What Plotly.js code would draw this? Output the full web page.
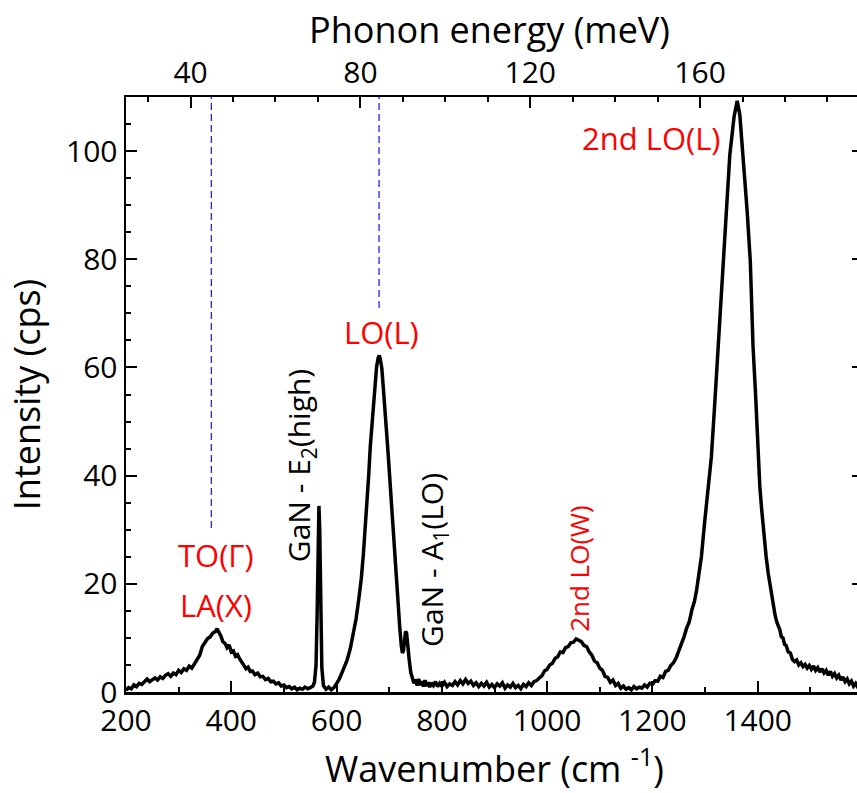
<!DOCTYPE html>
<html>
<head>
<meta charset="utf-8">
<script src="https://cdn.plot.ly/plotly-3.0.1.min.js"></script>
<style>
html,body{margin:0;padding:0;overflow:hidden;background:#fff;}
#chart{width:870px;height:793px;}
</style>
</head>
<body>
<div id="chart"></div>
<script>
// Raman spectrum (wavenumber in cm^-1, intensity in cps)
const wavenumber = [
200,205,210,215,220,225,230,235,240,245,250,255,260,265,270,275,280,285,290,295,300,305,310,315,320,325,330,335,340,345,350,355,360,365,370,373,376,380,384,388,392,396,400,404,408,412,416,420,424,428,432,436,440,445,450,455,460,465,470,475,480,485,490,495,500,505,510,515,520,525,530,535,540,545,550,555,558,561,563,565,566.5,568,570,572,575,580,585,590,595,600,604,607,613,620,626,632,637,642,647,651,655,658,661,664,667,670,673,676,679,681,683,686,689,692,695,698,702,705,708,711,714,717,720,723,725,727,729,731,733,735,738,741,744,747,750,753,756,759,762,765,768,771,774,777,780,784,788,792,796,800,805,810,815,820,825,830,835,840,845,850,855,860,865,870,875,880,885,890,895,900,905,910,915,920,925,930,935,940,945,950,955,960,965,970,975,980,985,990,995,1000,1005,1010,1015,1020,1025,1030,1035,1040,1045,1050,1055,1060,1065,1070,1075,1080,1085,1090,1095,1100,1105,1110,1115,1120,1125,1130,1135,1140,1145,1150,1155,1160,1165,1170,1175,1180,1185,1190,1195,1200,1205,1210,1215,1220,1225,1230,1235,1240,1245,1250,1255,1260,1265,1270,1275,1280,1284,1293,1299,1306,1312,1318,1322,1328,1334,1339,1347,1355,1361,1366,1372,1380,1386,1391,1396,1400,1404,1407,1410,1413,1416,1420,1424,1429,1433,1436,1439,1442,1445,1448,1451,1454,1458,1462,1466,1470,1474,1478,1482,1486,1490,1494,1498,1502,1506,1510,1514,1518,1522,1526,1530,1534,1538,1542,1546,1550,1554,1558,1562,1566,1570,1574,1578,1582,1586,1590,1595,1600
];
const intensity = [
0.3,0.8,0.6,1.3,1.0,1.6,1.4,2.0,2.4,1.9,2.3,2.6,2.2,2.8,2.5,3.1,3.4,2.9,3.5,3.2,4.0,3.6,4.3,4.0,4.8,4.4,5.2,5.9,6.8,8.4,9.2,9.9,10.2,10.9,11.2,11.7,11.1,10.4,9.3,9.0,8.2,8.7,7.4,7.6,6.6,6.9,6.1,5.4,5.0,4.3,4.6,3.8,3.9,3.2,3.5,2.8,2.9,2.3,2.5,1.9,2.0,1.5,1.7,1.1,1.3,0.8,1.0,0.6,0.9,0.4,0.7,0.5,0.9,0.6,0.8,1.1,1.8,5.0,14,30,34.4,30,14,4.5,1.2,0.5,0.9,0.4,0.8,1.5,2.2,2.8,4.2,5.9,8.0,10.8,13.5,17,21,25.6,31,34.8,40,45.3,49.5,52.7,57,60.1,61.8,62.2,61.6,59.8,56,52.7,48,44,38,33,28,23.2,19.5,15.8,12,8.5,7.2,7.6,9.6,11.2,10.9,8.2,5.9,3.6,2.4,1.6,2.3,1.2,2.4,1.3,2.0,1.0,2.2,1.1,1.8,0.9,1.7,1.2,1.9,1.0,1.6,1.1,1.8,1.0,1.5,1.2,1.9,1.3,2.1,1.5,2.3,1.6,2.0,1.2,1.7,1.0,1.6,1.1,1.8,0.9,1.4,0.8,1.5,1.1,1.7,0.7,1.3,0.9,1.6,0.8,1.2,0.6,1.4,1.0,1.7,1.2,1.9,2.1,2.6,3.0,3.9,4.2,5.0,5.3,6.2,6.5,7.4,7.3,8.2,8.4,9.1,9.2,9.8,9.5,9.3,8.6,8.4,7.4,6.8,5.7,5.4,4.4,4.0,2.9,2.7,1.8,2.2,1.2,1.6,0.7,1.1,0.5,0.8,0.4,1.0,0.6,0.9,0.7,1.3,0.9,1.6,1.4,2.1,2.0,2.9,2.7,3.8,4.0,4.9,5.4,6.3,7.6,8.8,10.2,11.8,13.0,15.2,16.8,18.9,25,31.2,37.3,43.5,52.7,59.2,70.3,80.8,87.6,99.3,106.3,109.3,106.7,99.3,88.8,79.5,64.1,54.9,45,38,34.3,31,28.1,25,21.9,19.5,15.8,14.2,13.0,12.3,11.5,10.2,10.0,8.8,8.6,7.4,7.2,6.0,5.6,5.9,5.0,5.4,4.7,5.1,4.4,4.9,4.2,4.8,4.0,4.5,3.7,4.3,3.5,4.0,3.1,3.8,2.9,3.4,2.6,3.1,2.2,2.8,1.9,2.4,1.5,2.0,1.1,1.6,0.9,1.3,0.8
];

// Dashed marker lines (phonon energy, meV) and their lower ends (cps)
const markerEnergy = [44.9, 84.4];
const markerBottom = [30.3, 71];

// Axis ticks
const bottomTicks = [200, 400, 600, 800, 1000, 1200, 1400];
const topTicks = [40, 80, 120, 160];
const leftTicks = [0, 20, 40, 60, 80, 100];

// Conversion factor: 1 meV = 8.0655 cm^-1
const CM_PER_MEV = 8.0655;

// Labels
const labelText = ["TO(Γ)", "LA(X)", "LO(L)", "2nd LO(L)", "2nd LO(W)", "GaN - E<sub>2</sub>(high)", "GaN - A<sub>1</sub>(LO)"];
const labelX = [371, 371, 685, 1199, 1060, 531, 783];
const labelY = [25.3, 16.1, 66.5, 102.4, 22.9, 41.8, 24.4];
const labelColor = ["#ff0000", "#ff0000", "#ff0000", "#ff0000", "#ff0000", "#000000", "#000000"];
const labelAngle = [0, 0, 0, 0, -90, -90, -90];
const labelSize = [31, 31, 31, 31, 26, 30, 30];

const traces = [{
  x: wavenumber, y: intensity, type: 'scatter', mode: 'lines',
  line: {color: '#000', width: 3.5}, xaxis: 'x', yaxis: 'y', hoverinfo: 'skip'
}];
markerEnergy.forEach((e, i) => {
  traces.push({
    x: [e, e], y: [markerBottom[i], 110], type: 'scatter', mode: 'lines',
    line: {color: '#2222ee', width: 1.3, dash: '7px,4px'}, xaxis: 'x2', yaxis: 'y', hoverinfo: 'skip'
  });
});

const font = {family: '"Open Sans", "Noto Sans", sans-serif', color: '#000'};
const annotations = labelText.map((t, i) => ({
  x: labelX[i], y: labelY[i], xref: 'x', yref: 'y', text: t, showarrow: false,
  textangle: labelAngle[i], font: Object.assign({}, font, {size: labelSize[i], color: labelColor[i]}),
  xanchor: 'center', yanchor: 'middle'
}));
// Top axis title
annotations.push({
  x: 0.493, y: 1.113, xref: 'paper', yref: 'paper', text: 'Phonon energy (meV)', showarrow: false,
  font: Object.assign({}, font, {size: 36}), xanchor: 'center', yanchor: 'middle'
});

const layout = {
  width: 870, height: 793,
  margin: {l: 126, r: 7, t: 97, b: 101},
  paper_bgcolor: '#fff', plot_bgcolor: '#fff',
  showlegend: false,
  font: font,
  xaxis: {
    range: [200, 1600], tickvals: bottomTicks, ticks: 'inside', ticklen: 11, tickwidth: 2,
    tickcolor: '#000', showline: true, linecolor: '#000', linewidth: 2.5, mirror: false,
    showgrid: false, zeroline: false, tickfont: {size: 30},
    minor: {dtick: 100, tick0: 200, ticks: 'inside', ticklen: 5, tickwidth: 2, tickcolor: '#000', showgrid: false},
    title: {text: 'Wavenumber (cm <sup>-1</sup>)', font: {size: 36}, standoff: 16}
  },
  xaxis2: {
    overlaying: 'x', side: 'top', anchor: 'y',
    range: [200 / CM_PER_MEV, 1600 / CM_PER_MEV], tickvals: topTicks, ticks: 'inside', ticklen: 11, tickwidth: 2,
    tickcolor: '#000', showline: true, linecolor: '#000', linewidth: 2.5,
    showgrid: false, zeroline: false, tickfont: {size: 30},
    minor: {dtick: 10, tick0: 0, ticks: 'inside', ticklen: 5, tickwidth: 2, tickcolor: '#000', showgrid: false}
  },
  yaxis: {
    range: [0, 110], tickvals: leftTicks, ticks: 'inside', ticklen: 11, tickwidth: 2,
    tickcolor: '#000', showline: true, linecolor: '#000', linewidth: 2.5, mirror: 'ticks',
    showgrid: false, zeroline: false, tickfont: {size: 30},
    minor: {dtick: 5, tick0: 0, ticks: 'inside', ticklen: 5, tickwidth: 2, tickcolor: '#000', showgrid: false},
    title: {text: 'Intensity (cps)', font: {size: 36}, standoff: 15}
  },
  annotations: annotations
};

Plotly.newPlot('chart', traces, layout, {displayModeBar: false, staticPlot: true});
</script>
</body>
</html>
